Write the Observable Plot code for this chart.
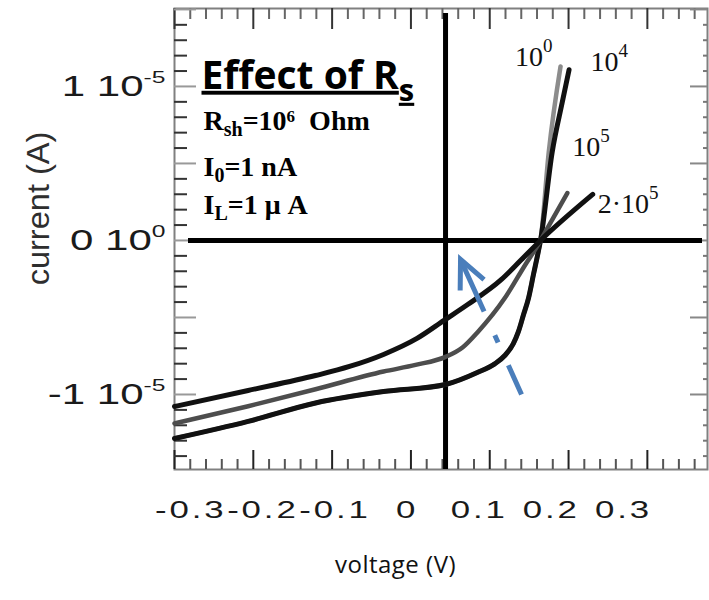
<!DOCTYPE html>
<html>
<head>
<meta charset="utf-8">
<script src="https://cdn.jsdelivr.net/npm/d3@7"></script>
<script src="https://cdn.jsdelivr.net/npm/@observablehq/plot@0.6"></script>
<style>
  body { margin: 0; background: #fff; }
  #chart { width: 709px; height: 600px; }
</style>
</head>
<body>
<div id="chart"></div>
<script>
// ---------- data (voltage in V, current in units of 1e-5 A) ----------
const rsKeys = ["1e0", "1e4", "1e5", "2e5"];
const rsLabels = ["10^{0}", "10^{4}", "10^{5}", "2·10^{5}"];

const voltage_1e0 = [-0.3226, -0.2205, -0.1270, -0.0327, 0.0533, 0.0981, 0.1215, 0.1355, 0.1473, 0.1542, 0.1613, 0.1684, 0.1753, 0.1822, 0.1850, 0.1964, 0.2128];
const current_1e0 = [-1.286, -1.175, -1.055, -0.981, -0.935, -0.856, -0.801, -0.747, -0.670, -0.594, -0.484, -0.374, -0.220, -0.067, 0.000, 0.571, 1.130];

const voltage_1e4 = [-0.3226, -0.2205, -0.1270, -0.0327, 0.0533, 0.0981, 0.1215, 0.1355, 0.1473, 0.1542, 0.1613, 0.1684, 0.1753, 0.1822, 0.1850, 0.2011, 0.2153, 0.2246];
const current_1e4 = [-1.286, -1.175, -1.055, -0.981, -0.935, -0.856, -0.801, -0.747, -0.670, -0.594, -0.484, -0.374, -0.220, -0.067, 0.000, 0.571, 0.900, 1.108];

const voltage_1e5 = [-0.3226, -0.2205, -0.1270, -0.0327, 0.0117, 0.0533, 0.0768, 0.0981, 0.1355, 0.1637, 0.1822, 0.1850, 0.2222];
const current_1e5 = [-1.188, -1.076, -0.966, -0.851, -0.808, -0.756, -0.695, -0.594, -0.374, -0.159, -0.023, 0.000, 0.308];

const voltage_2e5 = [-0.3226, -0.2205, -0.1270, -0.0799, -0.0327, 0.0137, 0.0512, 0.0840, 0.1309, 0.1580, 0.1850, 0.2574];
const current_2e5 = [-1.078, -0.974, -0.877, -0.818, -0.740, -0.636, -0.519, -0.416, -0.253, -0.127, 0.000, 0.299];

const xTickValues = [-0.3, -0.2, -0.1, 0, 0.1, 0.2, 0.3];
const xTickLabels = ["-0.3", "-0.2", "-0.1", "0", "0.1", "0.2", "0.3"];
const yTickValues = [-1, 0, 1];
const yTickLabels = ["-1 10^{-5}", "0 10^{0}", "1 10^{-5}"];
const yMajor = [-1, -0.5, 0, 0.5, 1, 1.5];

const xTitle = "voltage (V)";
const yTitle = "current (A)";
const titleText = "Effect of R_{s}";
const paramLines = ["R_{sh}=10^{6}  Ohm", "I_{0}=1 nA", "I_{L}=1 μ A"];

// axis cross drawn inside the frame (V, 1e-5 A)
const crossV = 0.0533;
const crossI = 0;

// blue dashed arrow (from -> to)
const arrowPath = [{v1: 0.1587, i1: -1.0, v2: 0.0741, i2: -0.123}];

// ---------- build ----------
const series = [
  {key: rsKeys[0], label: rsLabels[0], v: voltage_1e0, i: current_1e0},
  {key: rsKeys[1], label: rsLabels[1], v: voltage_1e4, i: current_1e4},
  {key: rsKeys[2], label: rsLabels[2], v: voltage_1e5, i: current_1e5},
  {key: rsKeys[3], label: rsLabels[3], v: voltage_2e5, i: current_2e5}
];
const rows = [];
series.forEach(s => s.v.forEach((v, k) => rows.push({key: s.key, v, i: s.i[k]})));

const xDomain = [-0.3226, 0.4166];
const yDomain = [-1.487, 1.506];
// frame tick marks of the original drawing (5 minor per major)
const xMajorStep = 0.1093;
const xFrameMajor = d3.range(0, 7).map(k => xDomain[0] + k * xMajorStep);
const xFrameMinor = d3.range(1, 34).filter(k => k % 5 !== 0).map(k => xDomain[0] + k * xMajorStep / 5);
const yMinor = d3.range(-14, 15).filter(k => k % 5 !== 0).map(k => k / 10);

const W = 709, H = 600, mL = 174, mR = 2, mT = 8, mB = 131;
const iw = W - mL - mR, ih = H - mT - mB;
const blue = "#4a7ebb";

const look = {
  "1e0": {stroke: "#8c8c8c", strokeWidth: 4.5, dx: -8, dy: -9, textAnchor: "end"},
  "1e4": {stroke: "#111111", strokeWidth: 5, dx: 21.5, dy: -7.3, textAnchor: "start"},
  "1e5": {stroke: "#4d4d4d", strokeWidth: 4.5, dx: 5, dy: -46, textAnchor: "start"},
  "2e5": {stroke: "#111111", strokeWidth: 5, dx: 5, dy: 9.7, textAnchor: "start"}
};
const paramDy = [113, 159, 197];

const headShape = {
  draw(context, l) {
    const a = 25 * Math.PI / 180, w = l * Math.sin(a), h = l * Math.cos(a);
    context.moveTo(-w, h - l);
    context.lineTo(0, -l);
    context.lineTo(w, h - l);
  }
};

function build(useVector) {
  const marks = [
    Plot.frame({stroke: "#808080", strokeWidth: 2}),
    // bottom ticks
    Plot.tickX(xFrameMinor, {x: d => d, insetTop: ih - 10, stroke: "#555", strokeWidth: 2}),
    Plot.tickX(xFrameMajor, {x: d => d, insetTop: ih - 19, stroke: "#222", strokeWidth: 2}),
    // top ticks
    Plot.tickX(xFrameMinor, {x: d => d, insetBottom: ih - 11, stroke: "#666", strokeWidth: 2}),
    Plot.tickX(xFrameMajor, {x: d => d, insetBottom: ih - 21, stroke: "#333", strokeWidth: 2}),
    // left ticks
    Plot.tickY(yMinor, {y: d => d, insetRight: iw - 13, stroke: "#333", strokeWidth: 2}),
    Plot.tickY(yMajor, {y: d => d, insetRight: iw - 22, stroke: "#999", strokeWidth: 2}),
    // right ticks
    Plot.tickY(yMinor, {y: d => d, insetLeft: iw - 4, stroke: "#777", strokeWidth: 2}),
    Plot.tickY(yMajor, {y: d => d, insetLeft: iw - 17, stroke: "#888", strokeWidth: 2}),
    // cross
    Plot.ruleY([crossI], {y: d => d, stroke: "#000", strokeWidth: 5, insetLeft: 14, insetRight: 5}),
    Plot.ruleX([crossV], {x: d => d, stroke: "#000", strokeWidth: 5, insetTop: 5})
  ];
  series.forEach(s => {
    const st = look[s.key];
    marks.push(Plot.line(rows.filter(r => r.key === s.key), {
      x: "v", y: "i", stroke: st.stroke, strokeWidth: st.strokeWidth, curve: "monotone-x"
    }));
  });
  series.forEach(s => {
    const st = look[s.key];
    marks.push(Plot.text(rows.filter(r => r.key === s.key), Plot.selectLast({
      x: "v", y: "i", text: () => s.label, dx: st.dx, dy: st.dy, textAnchor: st.textAnchor,
      lineAnchor: "middle", fontFamily: "Liberation Serif", fontSize: 28, fill: "#111"
    })));
  });
  marks.push(
    Plot.link(arrowPath, {x1: "v1", y1: "i1", x2: "v2", y2: "i2", stroke: blue, strokeWidth: 5,
      strokeDasharray: "32,25,8,26,200", strokeLinecap: "butt"})
  );
  if (useVector) {
    marks.push(Plot.vector(arrowPath, {x: "v2", y: "i2", length: 31, rotate: -24.3, anchor: "end",
      shape: headShape, stroke: blue, strokeWidth: 5, strokeLinecap: "butt", strokeLinejoin: "miter"}));
  } else {
    marks.push(Plot.arrow(arrowPath, {x1: "v1", y1: "i1", x2: "v2", y2: "i2", stroke: blue, strokeWidth: 5,
      headLength: 9.3, headAngle: 50, insetStart: 91, strokeLinecap: "butt", strokeLinejoin: "miter"}));
  }
  marks.push(
    Plot.axisX(xTickValues, {tickSize: 0, tickPadding: 31, tickFormat: d => xTickLabels[xTickValues.indexOf(d)],
      fontSize: 24, fontFamily: "Liberation Sans", fill: "#1a1a1a", label: null}),
    Plot.axisY(yTickValues, {tickSize: 0, tickPadding: 9, tickFormat: d => yTickLabels[yTickValues.indexOf(d)],
      fontSize: 29, fontFamily: "Liberation Sans", fill: "#1a1a1a", label: null}),
    Plot.text([xTitle], {frameAnchor: "bottom", text: d => d, dx: -45.5, dy: 103,
      fontFamily: "Open Sans", fontSize: 24, fill: "#111"}),
    Plot.text([yTitle], {frameAnchor: "left", text: d => d, rotate: -90, dx: -135, dy: -30.5,
      textAnchor: "middle", lineAnchor: "middle", fontFamily: "Liberation Sans", fontSize: 31, fill: "#2e2e2e"}),
    Plot.text([titleText], {frameAnchor: "top-left", text: d => d, dx: 27, dy: 67.8, textAnchor: "start",
      lineAnchor: "middle", fontFamily: "Open Sans", fontWeight: "bold", fontSize: 39, fill: "#000"})
  );
  paramLines.forEach((line, k) => {
    marks.push(Plot.text([line], {frameAnchor: "top-left", text: d => d, dx: 29, dy: paramDy[k], textAnchor: "start",
      lineAnchor: "middle", fontFamily: "Liberation Serif", fontWeight: "bold", fontSize: 28, fill: "#000"}));
  });
  return Plot.plot({
    width: W, height: H,
    marginLeft: mL, marginRight: mR, marginTop: mT, marginBottom: mB,
    x: {domain: xDomain},
    y: {domain: yDomain},
    style: {background: "#fff", color: "#222", fontFamily: "Liberation Sans"},
    marks
  });
}

let chart;
try { chart = build(true); } catch (e) { chart = build(false); }
document.getElementById("chart").appendChild(chart);

// ---------- post: sub/superscripts, stretch ----------
const cfgSeries = {sup: [19, 14], sub: [19, 6]};
const cfgYTick = {sup: [17, 13], sub: [17, 6]};
const cfgTitle = {sup: [24, 14], sub: [31, 12]};
const cfgParam = {sup: [17, 8], sub: [20, 6]};
function richify(el, cfg) {
  const str = el.textContent;
  while (el.firstChild) el.removeChild(el.firstChild);
  const re = /([_^])\{([^}]*)\}/g;
  let last = 0, m, cur = 0;
  const add = (t, size, shift) => {
    const ts = document.createElementNS("http://www.w3.org/2000/svg", "tspan");
    ts.textContent = t;
    const d = shift - cur;
    if (d) ts.setAttribute("dy", d);
    cur = shift;
    if (size) ts.setAttribute("font-size", size);
    el.appendChild(ts);
  };
  while ((m = re.exec(str))) {
    if (m.index > last) add(str.slice(last, m.index), null, 0);
    if (m[1] === "^") add(m[2], cfg.sup[0], -cfg.sup[1]);
    else add(m[2], cfg.sub[0], cfg.sub[1]);
    last = re.lastIndex;
  }
  if (last < str.length) add(str.slice(last), null, 0);
}
function stretch(el, sx) {
  let t = el.getAttribute("transform");
  if (!t) {
    const x = +el.getAttribute("x") || 0, y = +el.getAttribute("y") || 0;
    el.removeAttribute("x"); el.removeAttribute("y");
    t = `translate(${x},${y})`;
  }
  el.setAttribute("transform", t + ` scale(${sx},1)`);
}
chart.querySelectorAll("text").forEach(el => {
  const txt = el.textContent;
  if (rsLabels.includes(txt)) richify(el, cfgSeries);
  else if (yTickLabels.includes(txt)) richify(el, cfgYTick);
  else if (txt === titleText) {
    richify(el, cfgTitle);
    el.style.textDecoration = "underline";
    el.style.textDecorationThickness = "3px";
    el.style.textUnderlineOffset = "7px";
  } else if (paramLines.includes(txt)) {
    el.setAttribute("xml:space", "preserve");
    el.style.whiteSpace = "pre";
    richify(el, cfgParam);
  } else if (txt === yTitle) stretch(el, 1.05);
  else if (txt === xTitle) el.style.letterSpacing = "0.5px";
});
chart.querySelectorAll('[aria-label="x-axis tick label"] text').forEach(el => {
  el.style.letterSpacing = "2px";
  stretch(el, 1.45);
});
chart.querySelectorAll('[aria-label="y-axis tick label"] text').forEach(el => stretch(el, 1.45));
</script>
</body>
</html>
